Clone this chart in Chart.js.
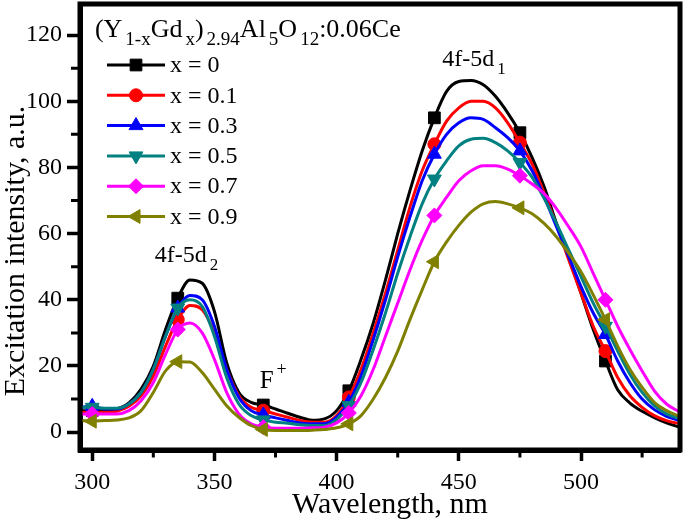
<!DOCTYPE html>
<html>
<head>
<meta charset="utf-8">
<script src="https://cdn.jsdelivr.net/npm/chart.js@4.4.1/dist/chart.umd.min.js"></script>
<style>
    html, body { margin: 0; padding: 0; background: #fff; }
    #wrap { width: 685px; height: 524px; }
</style>
</head>
<body>
<div id="wrap"><canvas id="myChart" width="685" height="524"></canvas></div>
<script>
var wavelength = [295, 300, 305, 310, 315, 320, 325, 330, 335, 340,
    345, 350, 355, 360, 365, 370, 375, 380, 385, 390,
    395, 400, 405, 410, 415, 420, 425, 430, 435, 440,
    445, 450, 455, 460, 465, 470, 475, 480, 485, 490,
    495, 500, 505, 510, 515, 520, 525, 530, 535, 540];

var gd00 = [6.5, 6.5, 6.6, 7, 8.8, 13, 20, 31, 40.5, 46,
    45, 36.5, 21, 12, 9, 8.2, 7, 5.7, 4.5, 3.6,
    4, 6.5, 12.5, 22, 33, 46, 60, 73, 85, 95,
    103, 106, 106.3, 105, 101.5, 96.5, 90.5, 83, 74, 63,
    53, 42, 31, 21.5, 12.8, 8.8, 6.3, 4.4, 2.8, 1.6];
var gd01 = [6, 6, 6, 6.3, 7.8, 11, 17, 26, 34, 38.3,
    37, 30, 19, 11, 7.5, 6.5, 5.5, 4.5, 3.5, 3,
    3, 5, 10.5, 19, 30, 42, 55, 68, 79, 87,
    94, 98, 100, 100, 98, 93.5, 87.5, 81, 72, 62.5,
    52, 42, 32, 24.5, 16.5, 11, 7.5, 5, 3.5, 2.6];
var gd03 = [7.5, 7.8, 7, 7, 8.5, 12, 19, 29, 37.5, 41.3,
    40, 32, 19, 10.5, 6.5, 5.2, 4.3, 3.5, 2.8, 2.5,
    2.5, 4.5, 9, 17, 28, 40, 53, 65, 76, 84,
    90, 93.5, 95, 94.5, 92, 89, 85, 79, 71, 62,
    53, 44, 36, 29.5, 21.5, 15, 10, 6.8, 4.8, 3.6];
var gd05 = [7.5, 7.5, 7.2, 7.2, 8.5, 12, 19, 29, 37.5, 40,
    38, 29, 16.5, 8.5, 5, 3.7, 3, 2.7, 2.2, 2,
    2, 3.8, 8, 15, 25, 36, 48, 59, 69, 76.5,
    82, 86.5, 88.5, 88.8, 87.5, 85, 81.5, 77, 70.5, 63,
    55, 47, 39, 32, 24.5, 17.5, 12, 8, 5.5, 4.2];
var gd07 = [5.5, 5.5, 5.5, 5.5, 6.5, 9.5, 15, 23.5, 31, 33,
    30, 22, 12, 5.5, 2.5, 1.5, 1.2, 1.2, 1.2, 1.3,
    1.5, 2.8, 5.8, 11, 19, 29, 39, 49, 58, 65.5,
    71, 76, 79, 80.5, 80.5, 79.5, 77.5, 75, 72, 67.5,
    62, 56, 48, 40, 32, 25, 18.5, 12.5, 8.5, 6.2];
var gd09 = [3.5, 3.3, 3.5, 3.7, 4.3, 6.5, 12, 18.5, 21.3, 21.2,
    18, 13, 8, 4.5, 2, 0.8, 0.5, 0.5, 0.5, 0.6,
    0.8, 1.3, 2.5, 5, 10, 16.5, 24.5, 34, 43, 51.5,
    57.5, 62.5, 66.5, 69, 69.7, 69, 67.8, 66, 63, 59,
    54, 48.5, 41.5, 34, 26, 19, 13.5, 9, 6.5, 4.8];

// wavelengths that carry a symbol
var markerWl = [300, 335, 370, 405, 440, 475, 510];

var seriesNames = ["x = 0", "x = 0.1", "x = 0.3", "x = 0.5", "x = 0.7", "x = 0.9"];
var seriesValues = [gd00, gd01, gd03, gd05, gd07, gd09];
var seriesColors = ["#000000", "#ff0000", "#0000ff", "#008080", "#ff00ff", "#808000"];
var seriesStyles = ["rect", "circle", "triangle", "triangle", "rectRot", "triangle"];
var seriesRotation = [0, 0, 0, 180, 0, -90];
var seriesRadius = [8.3, 6.5, 8, 8, 7.5, 8];

var xTicks = [300, 350, 400, 450, 500];
var yTicks = [0, 20, 40, 60, 80, 100, 120];

var SERIF = "'Liberation Serif', 'Times New Roman', serif";

// text placed in data units: [text, 0 normal | 1 sub | 2 sup]
var notes = [
    { parts: [["(", 0], ["Y", 0], ["1-x", 1], ["Gd", 0], ["x", 1], [")", 0], ["2.94", 1], ["Al", 0], ["5", 1], ["O", 0], ["12", 1], [":0.06Ce", 0]], x: 301.1, y: 119.4, size: 26 },
    { parts: [["4f-5d", 0], ["2", 1]], x: 325.6, y: 51.4, size: 24 },
    { parts: [["F", 0], ["+", 2]], x: 368.5, y: 13.3, size: 25 },
    { parts: [["4f-5d", 0], ["1", 1]], x: 443.2, y: 110.6, size: 24 }
];

function drawRich(ctx, parts, x, y, size) {
    var small = Math.round(size * 0.72);
    ctx.textAlign = "left";
    ctx.textBaseline = "alphabetic";
    for (var p of parts) {
        if (p[1] === 0) {
            ctx.font = size + "px " + SERIF;
            ctx.fillText(p[0], x, y);
        } else {
            x += 3;
            ctx.font = small + "px " + SERIF;
            ctx.fillText(p[0], x, p[1] === 1 ? y + 8 : y - 13);
        }
        x += ctx.measureText(p[0]).width;
    }
}

function markPoint(ctx, style, radius, rotation, x, y) {
    if (Chart.helpers && Chart.helpers.drawPoint) {
        Chart.helpers.drawPoint(ctx, { pointStyle: style, radius: radius, rotation: rotation, borderWidth: 1 }, x, y);
    }
}

var extras = {
    id: "extras",
    afterDraw: function (chart) {
        var ctx = chart.ctx;
        var area = chart.chartArea;
        var xs = chart.scales.x;
        var ys = chart.scales.y;
        ctx.save();
        ctx.fillStyle = "#000";
        ctx.strokeStyle = "#000";

        // minor ticks half way between the labelled ones
        ctx.lineWidth = 3;
        ctx.beginPath();
        for (var i = 0; i < xTicks.length; i++) {
            var v = xTicks[i] + 25;
            if (v < xs.max) {
                ctx.moveTo(xs.getPixelForValue(v), area.bottom);
                ctx.lineTo(xs.getPixelForValue(v), area.bottom + 7.5);
            }
        }
        for (var j = 0; j < yTicks.length; j++) {
            var w = yTicks[j] + 10;
            if (w < ys.max) {
                ctx.moveTo(area.left, ys.getPixelForValue(w));
                ctx.lineTo(area.left - 9, ys.getPixelForValue(w));
            }
        }
        ctx.stroke();

        // box round the plot
        ctx.lineWidth = 5;
        ctx.strokeRect(area.left, area.top, area.right - area.left, area.bottom - area.top);

        // axis titles
        ctx.font = "30px " + SERIF;
        ctx.textAlign = "center";
        ctx.textBaseline = "alphabetic";
        ctx.fillText("Wavelength, nm", (area.left + area.right) / 2 + 10, chart.height - 11);
        ctx.save();
        ctx.translate(24, (area.top + area.bottom) / 2 + 24);
        ctx.rotate(-Math.PI / 2);
        ctx.fillText("Excitation intensity, a.u.", 0, 0);
        ctx.restore();

        for (var n of notes) {
            drawRich(ctx, n.parts, xs.getPixelForValue(n.x), ys.getPixelForValue(n.y), n.size);
        }

        // legend inside the plot
        for (var k = 0; k < seriesNames.length; k++) {
            var ly = area.top + 61 + k * 30.3;
            var lx = area.left + 27;
            ctx.strokeStyle = seriesColors[k];
            ctx.fillStyle = seriesColors[k];
            ctx.lineWidth = 3;
            ctx.beginPath();
            ctx.moveTo(lx, ly);
            ctx.lineTo(lx + 58, ly);
            ctx.stroke();
            ctx.lineWidth = 1;
            markPoint(ctx, seriesStyles[k], seriesRadius[k], seriesRotation[k], lx + 29, ly);
            ctx.fillStyle = "#000";
            ctx.font = "24px " + SERIF;
            ctx.textAlign = "left";
            ctx.textBaseline = "middle";
            ctx.fillText(seriesNames[k], lx + 63, ly + 1);
        }
        ctx.restore();
    }
};

var datasets = [];
for (var s = 0; s < seriesValues.length; s++) {
    (function (s) {
        datasets.push({
            label: seriesNames[s],
            data: wavelength.map(function (w, i) { return { x: w, y: seriesValues[s][i] }; }),
            borderColor: seriesColors[s],
            backgroundColor: seriesColors[s],
            borderWidth: 3,
            cubicInterpolationMode: "monotone",
            pointStyle: seriesStyles[s],
            pointRotation: seriesRotation[s],
            pointBackgroundColor: seriesColors[s],
            pointBorderColor: seriesColors[s],
            pointBorderWidth: 1,
            pointRadius: function (ctx) {
                return markerWl.indexOf(wavelength[ctx.dataIndex]) >= 0 ? seriesRadius[s] : 0;
            },
            order: seriesValues.length - s,
        });
    })(s);
}

var ctx = document.getElementById("myChart").getContext("2d");
var lienzo = new Chart(ctx, {
    type: "line",
    data: { datasets: datasets },
    plugins: [extras],
    options: {
        responsive: false,
        animation: false,
        layout: { padding: { top: 4, right: 5, left: 0, bottom: 0 } },
        plugins: { legend: { display: false }, tooltip: { enabled: false } },
        scales: {
            x: {
                type: "linear",
                min: 295,
                max: 540.5,
                afterFit: function (scale) {
                    scale.height = 74;
                    scale.paddingLeft = 0;
                    scale.paddingRight = 0;
                },
                afterBuildTicks: function (scale) { scale.ticks = xTicks.map(function (v) { return { value: v }; }); },
                ticks: { color: "#000", font: { family: SERIF, size: 24 }, padding: 7, maxRotation: 0 },
                grid: { drawOnChartArea: false, drawTicks: true, tickLength: 11, tickWidth: 3.5, tickColor: "#000" },
                border: { display: true, color: "#000", width: 5 },
            },
            y: {
                min: -5.4,
                max: 129.4,
                afterFit: function (scale) {
                    scale.width = 80;
                    scale.paddingTop = 0;
                    scale.paddingBottom = 0;
                },
                afterBuildTicks: function (scale) { scale.ticks = yTicks.map(function (v) { return { value: v }; }); },
                ticks: { color: "#000", font: { family: SERIF, size: 24 }, padding: 5 },
                grid: { drawOnChartArea: false, drawTicks: true, tickLength: 13, tickWidth: 3.5, tickColor: "#000" },
                border: { display: true, color: "#000", width: 5 },
            },
        },
    },
});
</script>
</body>
</html>
